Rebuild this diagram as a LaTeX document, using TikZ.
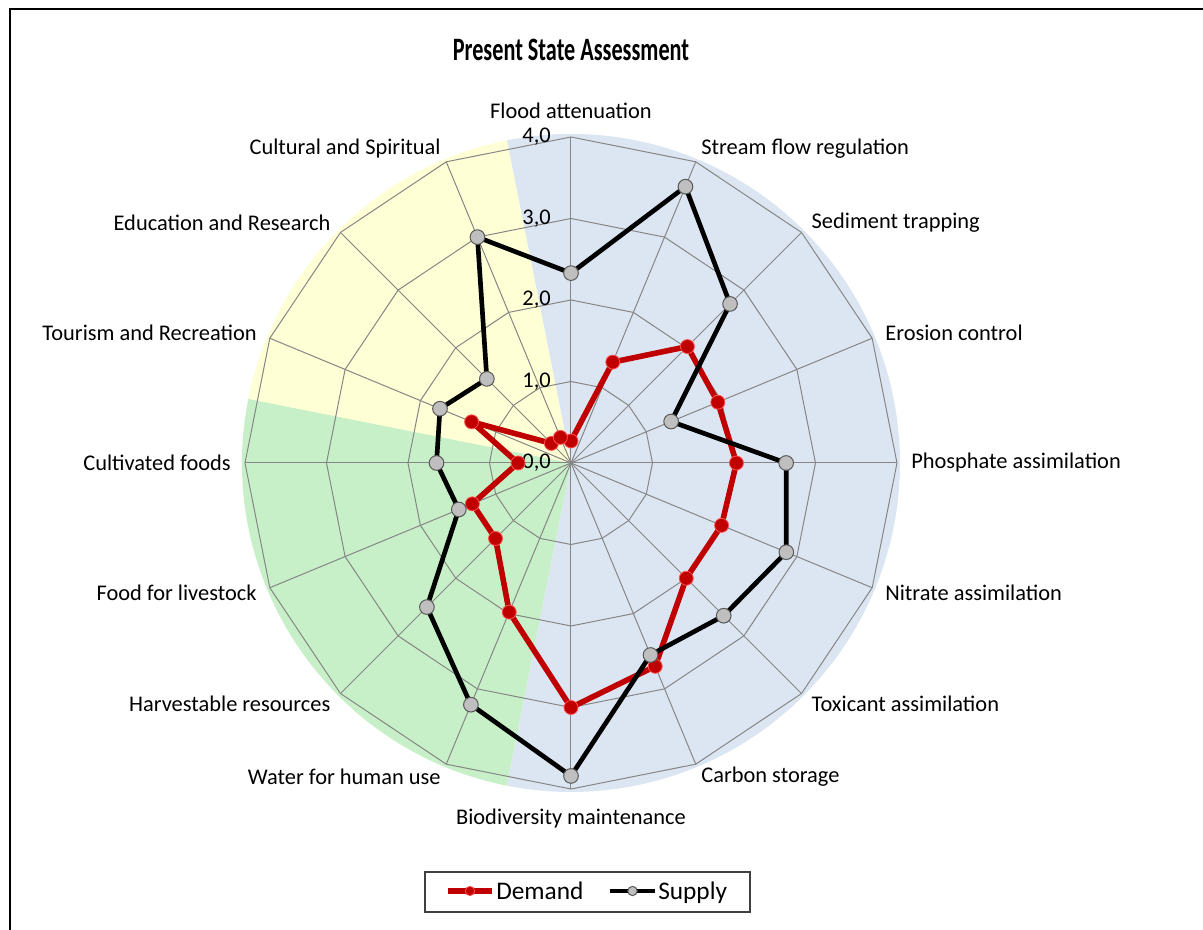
\documentclass[tikz,border=0pt]{standalone}
\usepackage{fontspec}
\setmainfont{Carlito}
\usepackage{tikz}

\definecolor{bluebg}{HTML}{DCE6F2}
\definecolor{greenbg}{HTML}{C8F0C8}
\definecolor{yellowbg}{HTML}{FFFFD5}
\definecolor{gridgray}{HTML}{868686}
\definecolor{demandred}{HTML}{C00000}
\definecolor{demandedge}{HTML}{FF5050}
\definecolor{supplygray}{HTML}{BFBFBF}
\definecolor{supplyedge}{HTML}{595959}

\begin{document}
\begin{tikzpicture}[x=0.75pt,y=0.75pt,
		gridline/.style={draw=gridgray,line width=0.75pt},
		demandline/.style={draw=demandred,line width=4.2pt,line join=round},
		supplyline/.style={draw=black,line width=3.5pt,line join=round},
		demanddot/.style={circle,draw=demandedge,fill=demandred,line width=0.6pt,inner sep=0pt,minimum size=10.5pt},
		supplydot/.style={circle,draw=supplyedge,fill=supplygray,line width=0.75pt,inner sep=0pt,minimum size=11pt},
		axislabel/.style={font=\fontsize{16.8}{18}\selectfont,inner sep=0pt},
		ticklabel/.style={font=\fontsize{16.8}{18}\selectfont,inner sep=0pt,anchor=east}]
	\def\rr{81.5}
	\useasboundingbox (-571,-467) rectangle (632,463);
	\draw[line width=1.5pt] (-561,-467) -- (-561,454) -- (632,454);
	
	\node[font=\bfseries\fontsize{24.5}{26}\selectfont] (title) at (0,413) {\scalebox{0.68}[1]{Present State Assessment}};
	
	% background sectors
	\fill[bluebg] (0,0) -- (101.25:329) arc[start angle=101.25,end angle=-101.25,radius=329] -- cycle;
	\fill[greenbg] (0,0) -- (-101.25:329) arc[start angle=-101.25,end angle=-191.25,radius=329] -- cycle;
	\fill[yellowbg] (0,0) -- (168.75:329) arc[start angle=168.75,end angle=101.25,radius=329] -- cycle;
	
	% grid
	\foreach \v in {1,...,4}
	\draw[gridline] (90:\v*\rr) \foreach \i in {1,...,15} {-- ({90-22.5*\i}:\v*\rr)} -- cycle;
	\foreach \i in {0,...,15}
	\draw[gridline] (0,0) -- ({90-22.5*\i}:4*\rr);
	\foreach \v in {0,...,4}
	\node[ticklabel] (t\v) at (-20,\v*\rr) {\v,0};
	
	\foreach \t/\a/\r [count=\i from 0] in {Flood attenuation/south/344,Stream flow regulation/west/340,
		Sediment trapping/west/340,Erosion control/west/340,Phosphate assimilation/west/340,
		Nitrate assimilation/west/340,Toxicant assimilation/west/340,Carbon storage/west/340,
		Biodiversity maintenance/north/346,Water for human use/east/340,Harvestable resources/east/340,
		Food for livestock/east/340,Cultivated foods/east/340,Tourism and Recreation/east/340,
		Education and Research/east/340,Cultural and Spiritual/east/340}
	\node[axislabel,anchor=\a] (l\i) at ({90-22.5*\i}:\r) {\t};
	
	% demand
	\foreach \v [count=\i from 0] in {0.27,1.34,2.02,1.95,2.03,2.0,2.0,2.7,3.0,1.98,1.31,1.31,0.65,1.32,0.34,0.34}
	\coordinate (d\i) at ({90-22.5*\i}:\v*\rr);
	\draw[demandline] (d0) \foreach \i in {1,...,15} {-- (d\i)} -- cycle;
	\foreach \i in {0,...,15}
	\node[demanddot] (dm\i) at (d\i) {};
	
	% supply
	\foreach \v [count=\i from 0] in {2.33,3.67,2.76,1.33,2.64,2.86,2.65,2.55,3.84,3.21,2.5,1.49,1.65,1.74,1.46,3.0}
	\coordinate (s\i) at ({90-22.5*\i}:\v*\rr);
	\draw[supplyline] (s0) \foreach \i in {1,...,15} {-- (s\i)} -- cycle;
	\foreach \i in {0,...,15}
	\node[supplydot] (sm\i) at (s\i) {};
	
	% legend
	\draw[draw=black!75,line width=1.2pt] (-146,-409) rectangle (179,-449);
	\coordinate (ld1) at (-123,-428);
	\coordinate (ld2) at (-79,-428);
	\coordinate (ls1) at (39,-428);
	\coordinate (ls2) at (84,-428);
	\draw[demandline] (ld1) -- (ld2);
	\node[demanddot,minimum size=7pt] (ldm) at (-101,-428) {};
	\node[axislabel,font=\fontsize{19}{20}\selectfont,anchor=base west] (ldt) at (-75,-436) {Demand};
	\draw[supplyline] (ls1) -- (ls2);
	\node[supplydot,minimum size=7pt] (lsm) at (61.5,-428) {};
	\node[axislabel,font=\fontsize{19}{20}\selectfont,anchor=base west] (lst) at (87,-436) {Supply};
\end{tikzpicture}
\end{document}
